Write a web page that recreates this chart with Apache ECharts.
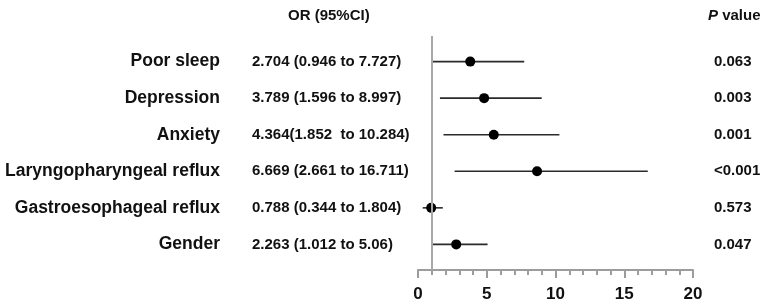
<!DOCTYPE html>
<html>
<head>
<meta charset="utf-8">
<script src="https://cdn.jsdelivr.net/npm/echarts@6/dist/echarts.min.js"></script>
<style>
html,body{margin:0;padding:0;background:#fff;}
#chart{width:767px;height:304px;}
</style>
</head>
<body>
<div id="chart"></div>
<script>
const categories = ['Poor sleep','Depression','Anxiety','Laryngopharyngeal reflux','Gastroesophageal reflux','Gender'];
const orText = ['2.704 (0.946 to 7.727)','3.789 (1.596 to 8.997)','4.364(1.852  to 10.284)','6.669 (2.661 to 16.711)','0.788 (0.344 to 1.804)','2.263 (1.012 to 5.06)'];
const pValues = ['0.063','0.003','0.001','<0.001','0.573','0.047'];
const ciLow = [0.946, 1.596, 1.852, 2.661, 0.344, 1.012];
const ciHigh = [7.727, 8.997, 10.284, 16.711, 1.804, 5.06];
const points = [3.80, 4.81, 5.51, 8.66, 0.96, 2.78];
const xTicks = [0, 5, 10, 15, 20];

const FONT = '"Liberation Sans", Arial, sans-serif';
const rowIdx = categories.map((_, i) => i);

const chart = echarts.init(document.getElementById('chart'), null, {renderer: 'canvas'});

const yBase = {
  type: 'value', min: -0.7, max: 5.7, inverse: true,
  axisLine: {show: false}, axisTick: {show: false}, splitLine: {show: false}
};

chart.setOption({
  animation: false,
  backgroundColor: '#fff',
  title: [
    {text: 'OR (95%CI)', left: 283, top: 3,
     textStyle: {fontFamily: FONT, fontWeight: 'bold', fontSize: 15, color: '#111'}},
    {text: '{i|P}{n| value}', left: 703, top: 3,
     textStyle: {rich: {
       i: {fontFamily: FONT, fontWeight: 'bold', fontStyle: 'italic', fontSize: 15, color: '#111'},
       n: {fontFamily: FONT, fontWeight: 'bold', fontSize: 15, color: '#111'}
     }}}
  ],
  grid: {left: 418, right: 74, top: 36, bottom: 34},
  xAxis: {
    type: 'value', min: xTicks[0], max: xTicks[xTicks.length - 1], interval: 5,
    axisLine: {show: true, onZero: false, lineStyle: {color: '#9c9c9c', width: 2}},
    axisTick: {show: true, length: 8, lineStyle: {color: '#9c9c9c', width: 2}},
    minorTick: {show: true, splitNumber: 5, length: 5, lineStyle: {color: '#9c9c9c', width: 2}},
    splitLine: {show: false},
    axisLabel: {margin: 16, fontFamily: FONT, fontWeight: 'bold', fontSize: 17, color: '#111'}
  },
  yAxis: [
    Object.assign({}, yBase, {
      position: 'left', offset: 198,
      axisLabel: {margin: 0, customValues: rowIdx, formatter: v => categories[v] || '',
        fontFamily: FONT, fontWeight: 'bold', fontSize: 17.5, color: '#111'}
    }),
    Object.assign({}, yBase, {
      position: 'left', offset: 166,
      axisLabel: {margin: 0, align: 'left', customValues: rowIdx, formatter: v => orText[v] || '',
        fontFamily: FONT, fontWeight: 'bold', fontSize: 15, color: '#111', padding: [3, 0, 0, 0]}
    }),
    Object.assign({}, yBase, {
      position: 'right', offset: 0,
      axisLabel: {margin: 21, align: 'left', customValues: rowIdx, formatter: v => pValues[v] || '',
        fontFamily: FONT, fontWeight: 'bold', fontSize: 15, color: '#111'}
    })
  ],
  series: [
    {
      type: 'custom',
      yAxisIndex: 0,
      data: rowIdx.map(i => [ciLow[i], ciHigh[i], i]),
      encode: {x: [0, 1], y: 2},
      renderItem: function (params, api) {
        const a = api.coord([api.value(0), api.value(2)]);
        const b = api.coord([api.value(1), api.value(2)]);
        return {type: 'line', shape: {x1: a[0], y1: a[1], x2: b[0], y2: b[1]},
          style: {stroke: '#2a2a2a', lineWidth: 1.6}};
      },
      markLine: {
        silent: true, symbol: 'none', label: {show: false},
        lineStyle: {color: '#a8a8a8', width: 2, type: 'solid'},
        data: [{xAxis: 1}]
      },
      z: 2
    },
    {
      type: 'scatter',
      yAxisIndex: 0,
      data: rowIdx.map(i => [points[i], i]),
      symbol: 'circle', symbolSize: 10,
      itemStyle: {color: '#000', opacity: 1},
      z: 3
    }
  ]
});
</script>
</body>
</html>
